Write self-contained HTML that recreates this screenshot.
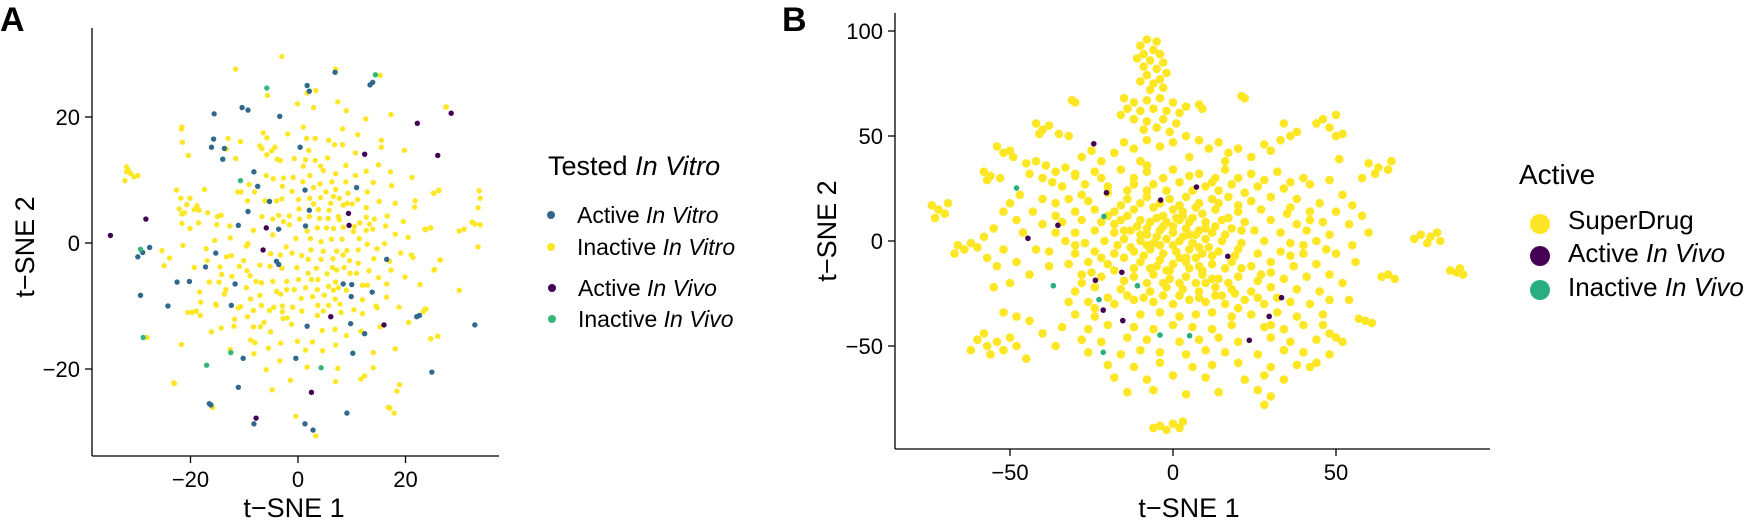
<!DOCTYPE html>
<html><head><meta charset="utf-8"><style>
html,body{margin:0;padding:0;background:#fff;}
svg{display:block;font-family:"Liberation Sans",Arial,sans-serif;}
</style></head><body>
<svg id="fig" width="1750" height="522" viewBox="0 0 1750 522" xmlns="http://www.w3.org/2000/svg">
<g id="axA">
<text x="0" y="31" font-size="34" font-weight="bold">A</text>
<line x1="92" y1="28" x2="92" y2="456" stroke="#000" stroke-width="1.3"/>
<line x1="92" y1="456" x2="499" y2="456" stroke="#000" stroke-width="1.3"/>
<text x="294" y="517" font-size="27" text-anchor="middle">t−SNE 1</text>
<text transform="translate(34,247) rotate(-90)" font-size="27" text-anchor="middle">t−SNE 2</text>
<g id="ticksA"></g><g id="ptsA"></g>
<g>
<text x="548" y="175" font-size="27">Tested <tspan font-style="italic">In Vitro</tspan></text>
<circle cx="551" cy="215" r="4" fill="#31688e"/>
<text x="577" y="223" font-size="23">Active <tspan font-style="italic">In Vitro</tspan></text>
<circle cx="551" cy="247" r="4" fill="#fde725"/>
<text x="577" y="255" font-size="23">Inactive <tspan font-style="italic">In Vitro</tspan></text>
<circle cx="552" cy="288" r="4" fill="#440154"/>
<text x="578" y="296" font-size="23">Active <tspan font-style="italic">In Vivo</tspan></text>
<circle cx="552" cy="319" r="4" fill="#35b779"/>
<text x="578" y="327" font-size="23">Inactive <tspan font-style="italic">In Vivo</tspan></text>
</g>
</g>
<g id="axB">
<text x="782" y="31" font-size="34" font-weight="bold">B</text>
<line x1="895" y1="13" x2="895" y2="449" stroke="#000" stroke-width="1.3"/>
<line x1="895" y1="449" x2="1490" y2="449" stroke="#000" stroke-width="1.3"/>
<text x="1189" y="517" font-size="27" text-anchor="middle">t−SNE 1</text>
<text transform="translate(836,231) rotate(-90)" font-size="27" text-anchor="middle">t−SNE 2</text>
<g id="ticksB"></g><g id="ptsB"></g>
<g>
<text x="1519" y="184" font-size="28">Active</text>
<circle cx="1540" cy="224" r="10" fill="#fde725"/>
<text x="1568" y="229" font-size="26">SuperDrug</text>
<circle cx="1540" cy="256" r="10" fill="#440154"/>
<text x="1568" y="262" font-size="26">Active <tspan font-style="italic">In Vivo</tspan></text>
<circle cx="1540" cy="290" r="10" fill="#29af7f"/>
<text x="1568" y="296" font-size="26">Inactive <tspan font-style="italic">In Vivo</tspan></text>
</g>
</g>
</svg>
<script>
// ---- Panel A data ----
const aTicksX=[-20,0,20];
const aTicksY=[-20,0,20];
const aActiveVitro=[[6.9,27.1],[1.7,25.0],[2.1,24.1],[13.4,25.1],[13.9,25.5],[-10.4,21.5],[-9.3,21.1],[-15.6,20.5],[-3.4,20.1],[-15.7,16.5],[-16.1,15.2],[-13.7,15.0],[-14.0,13.3],[0.4,15.2],[-8.2,11.3],[-7.5,9.0],[1.3,8.4],[-5.3,6.6],[2.1,5.2],[-9.3,5.0],[-11.1,2.8],[-3.6,2.2],[1.4,2.7],[10.9,8.8],[-27.6,-0.7],[-29.8,-2.2],[-28.9,-1.5],[-15.3,-1.6],[-17.2,-3.8],[-4.0,-2.9],[-3.6,-3.4],[16.5,-2.6],[-22.5,-6.2],[-20.2,-6.1],[-11.7,-6.5],[8.4,-6.5],[10.0,-6.6],[-29.3,-8.3],[-24.2,-10.0],[-12.4,-9.9],[9.9,-8.5],[13.8,-7.8],[1.7,-13.2],[9.8,-12.8],[12.4,-14.4],[22.1,-11.7],[22.6,-11.5],[-10.2,-18.3],[-0.4,-18.3],[10.2,-17.5],[24.9,-20.5],[-11.1,-22.9],[-16.5,-25.5],[-16.2,-25.7],[-8.2,-28.7],[1.3,-28.7],[2.8,-29.7],[9.1,-27.0],[32.9,-13.0]];
const aActiveVivo=[[22.2,19.0],[26.0,13.9],[28.5,20.6],[12.4,14.1],[-28.3,3.8],[-34.9,1.2],[9.4,4.7],[9.5,2.8],[-5.9,2.4],[-6.5,-1.1],[6.1,-11.7],[16.0,-13.0],[2.5,-23.7],[-7.8,-27.8]];
const aInactiveVivo=[[14.4,26.7],[-5.8,24.6],[-10.7,9.9],[-29.3,-1.0],[-28.8,-15.0],[-12.5,-17.4],[-17.0,-19.4],[4.3,-19.8]];
const aInactiveVitro=[[-3.0,29.6],[-11.6,27.6],[7.0,27.6],[15.3,26.6],[3.3,24.2],[-5.7,23.4],[1.7,23.8],[7.4,22.4],[-0.1,22.1],[2.9,21.5],[9.0,21.0],[17.3,20.4],[27.6,21.6],[12.6,19.7],[1.0,18.4],[8.3,18.1],[-21.6,18.4],[-21.7,18.1],[-21.5,16.0],[-6.5,17.5],[-5.8,16.7],[-1.9,17.3],[-13.0,16.6],[-10.7,16.1],[1.6,16.6],[3.2,16.6],[5.7,16.3],[11.1,17.2],[15.5,16.3],[15.5,15.2],[6.8,15.6],[8.3,15.6],[-7.1,15.4],[-4.3,15.2],[-13.3,14.9],[-6.7,15.0],[-4.9,14.6],[2.0,14.7],[-3.9,13.3],[-3.3,13.1],[-0.7,13.4],[1.4,13.2],[3.2,13.1],[5.5,13.5],[10.7,14.3],[19.8,14.7],[-11.6,13.4],[-20.4,13.9],[-5.8,14.0],[1.0,12.2],[8.9,12.3],[15.0,12.4],[4.2,12.2],[12.7,11.4],[17.2,11.3],[7.0,11.0],[4.7,11.5],[2.2,10.7],[-5.9,10.7],[-0.9,10.4],[10.7,10.7],[21.2,10.4],[-31.9,12.1],[-31.5,11.5],[-31.9,11.3],[-31.1,11.0],[-29.8,10.7],[-30.5,10.5],[-32.2,9.9],[-4.6,10.2],[-2.7,10.3],[0.9,9.7],[4.1,9.4],[6.3,9.7],[8.9,9.7],[14.0,9.6],[17.4,9.1],[-9.1,9.3],[-2.9,9.0],[2.9,8.8],[5.2,8.1],[7.0,8.5],[9.3,7.9],[12.9,8.1],[-11.2,8.1],[-10.6,8.1],[-8.1,8.1],[-1.1,8.2],[25.2,7.9],[26.2,8.4],[-22.6,8.4],[-17.4,8.5],[-9.4,6.7],[-6.1,6.7],[-4.0,6.7],[-3.0,7.0],[0.1,6.9],[2.2,7.1],[4.2,7.2],[6.6,7.4],[7.7,7.1],[9.1,6.3],[10.1,6.2],[11.1,6.9],[12.7,5.6],[15.1,6.6],[18.1,6.3],[21.8,6.7],[21.7,5.7],[-21.8,7.1],[-20.1,7.1],[-22.1,5.4],[-20.7,6.1],[-18.8,5.9],[-19.3,5.3],[3.8,5.3],[5.8,5.2],[8.4,6.0],[6.1,6.3],[0.2,5.4],[2.9,6.2],[-3.6,4.4],[-1.6,4.3],[-6.7,4.2],[-4.7,3.8],[0.3,3.8],[2.1,4.2],[4.0,3.9],[5.6,3.9],[7.5,4.2],[11.5,3.2],[12.7,4.1],[14.2,3.8],[16.6,4.3],[-21.6,4.6],[-21.1,4.8],[-18.4,5.2],[-16.8,4.8],[-15.0,4.2],[-14.3,4.4],[-21.6,3.1],[-18.5,3.2],[-15.1,2.9],[-12.7,2.7],[-2.7,3.4],[-1.6,2.9],[7.7,3.7],[10.5,2.6],[13.3,3.0],[19.6,3.4],[-20.1,2.3],[-8.3,2.0],[-4.7,1.3],[1.7,1.9],[3.6,2.4],[5.3,2.4],[6.6,2.3],[8.4,2.5],[10.3,1.8],[12.7,2.0],[13.9,2.2],[16.3,2.7],[18.1,1.4],[20.5,0.9],[23.7,2.1],[24.6,2.4],[-15.5,0.4],[-12.6,0.8],[-9.6,-0.5],[-9.3,-0.1],[-0.4,0.7],[2.3,0.7],[4.3,0.2],[6.2,0.6],[8.2,0.6],[11.4,0.7],[16.1,-0.1],[-21.4,-0.4],[-17.1,-0.9],[-13.3,-2.2],[-12.4,-2.0],[-10.1,-2.8],[-5.1,-1.7],[-3.3,-1.9],[-2.2,-0.6],[-1.1,-1.6],[0.7,-2.0],[2.4,-1.1],[4.7,-1.3],[7.2,-1.3],[9.1,-1.2],[11.2,-1.1],[12.9,-0.2],[14.7,-0.9],[19.1,-1.6],[21.1,-1.9],[21.4,-2.3],[26.5,-2.7],[-25.3,-1.2],[-23.9,-2.4],[-16.9,-2.8],[-24.9,-3.6],[1.9,-2.6],[4.3,-2.6],[6.5,-2.5],[8.4,-1.9],[9.6,-2.8],[11.2,-3.2],[14.1,-2.5],[17.0,-2.9],[-19.3,-3.9],[-14.5,-3.8],[-10.9,-3.7],[-9.5,-4.4],[-7.1,-3.5],[-5.2,-3.7],[-3.0,-4.0],[-0.2,-3.9],[1.9,-4.8],[3.4,-4.0],[5.4,-4.9],[6.4,-3.9],[7.2,-4.3],[8.6,-3.9],[9.7,-4.8],[10.9,-4.8],[13.2,-4.4],[17.3,-4.3],[25.4,-4.2],[-14.2,-5.0],[-12.3,-5.3],[-8.9,-5.2],[-16.5,-6.2],[-14.7,-6.2],[-13.4,-7.4],[-9.6,-7.1],[-7.8,-6.1],[-6.8,-6.3],[-4.7,-6.1],[-2.1,-6.1],[0.1,-5.8],[2.5,-5.8],[3.7,-5.8],[5.7,-6.9],[7.0,-6.2],[7.5,-7.1],[12.0,-6.7],[12.9,-6.7],[15.0,-5.5],[16.5,-6.5],[19.9,-5.4],[22.7,-6.6],[-0.7,-7.4],[1.4,-7.1],[3.6,-7.4],[6.6,-7.5],[9.0,-7.5],[-18.3,-7.8],[-18.1,-9.4],[-13.7,-8.1],[-7.1,-8.3],[-4.0,-7.7],[-3.2,-8.1],[-2.1,-7.4],[0.6,-8.8],[2.7,-8.5],[4.9,-8.3],[6.9,-8.9],[12.0,-9.0],[16.5,-8.6],[-15.3,-9.7],[-15.2,-9.9],[-10.7,-10.1],[-11.1,-10.3],[-8.8,-8.9],[-6.8,-9.9],[-4.5,-10.2],[-2.9,-10.0],[-1.0,-10.2],[3.7,-9.9],[5.7,-9.9],[7.8,-9.7],[10.4,-10.6],[14.5,-10.0],[14.7,-10.3],[18.8,-10.2],[-20.5,-11.0],[-19.7,-11.0],[-18.9,-10.8],[-18.2,-11.5],[-11.8,-12.1],[-9.4,-11.7],[-8.3,-10.7],[-5.3,-10.7],[-2.9,-10.9],[-2.8,-12.0],[-2.0,-11.9],[-1.2,-12.9],[0.7,-10.8],[3.6,-11.5],[4.7,-10.8],[8.0,-11.0],[12.0,-11.2],[23.3,-10.9],[23.8,-10.5],[20.6,-12.6],[-16.1,-14.1],[-14.3,-13.5],[-11.9,-13.2],[-8.3,-13.3],[-7.0,-13.3],[-6.3,-12.6],[-5.1,-14.1],[4.5,-13.9],[6.9,-13.7],[9.0,-14.7],[11.7,-14.0],[15.3,-13.3],[24.7,-15.2],[26.0,-14.8],[-21.7,-16.1],[-28.1,-15.0],[-8.8,-15.4],[-8.0,-15.8],[-3.2,-15.9],[-0.1,-15.6],[2.7,-15.7],[7.0,-16.2],[-12.6,-16.9],[-8.2,-17.6],[-5.5,-16.7],[1.4,-17.0],[4.6,-17.1],[14.0,-17.4],[18.1,-16.8],[-3.4,-18.7],[1.7,-19.7],[-5.9,-20.1],[7.4,-19.9],[14.0,-19.8],[-23.0,-22.3],[-1.4,-21.8],[7.0,-22.0],[11.7,-21.6],[12.4,-21.1],[18.9,-22.5],[18.4,-23.5],[-4.8,-23.3],[-15.9,-26.1],[16.8,-26.1],[17.1,-26.2],[-23.1,-22.2],[-0.4,-27.5],[3.3,-30.6],[17.9,-27.0],[27.5,21.6],[25.3,7.9],[26.2,8.3],[33.7,8.3],[33.9,7.1],[33.5,5.6],[32.4,3.3],[32.9,3.0],[33.9,2.9],[30.0,1.9],[30.9,2.2],[23.6,2.2],[24.7,2.4],[33.5,-0.6],[26.4,-2.7],[25.3,-4.3],[30.0,-7.5],[23.6,-10.5],[24.7,-15.2],[26.0,-14.8]];
// ---- Panel B data ----
const bTicksX=[-50,0,50];
const bTicksY=[-50,0,50,100];
const bActiveVivo=[[-24.3,46.3],[-20.4,23.0],[-3.8,19.5],[7.2,25.7],[-35.3,7.5],[-44.5,1.3],[16.8,-7.3],[-15.7,-14.9],[-23.8,-18.7],[-21.4,-32.9],[-15.4,-37.9],[33.3,-27.0],[29.5,-35.9],[23.4,-47.3]];
const bInactiveVivo=[[-48.0,25.2],[-21.2,11.7],[-36.7,-21.3],[-10.9,-21.3],[-22.7,-27.9],[-4.0,-44.8],[5.1,-45.1],[-21.4,-53.0]];
const bSuperDrug=[[-8,96],[-5,95],[-10,93],[-6,91],[-9,89],[-4,89],[-11,87],[-7,86],[-3,85],[-9,83],[-5,82],[-2,80],[-8,79],[-4,77],[-6,75],[-10,76],[-3,73],[-7,72],
[-15,68],[-12,66],[-8,67],[-4,68],[0,66],[-14,63],[-10,62],[-6,63],[-2,62],[2,61],[-12,58],[-8,57],[-3,58],[1,56],[-16,60],[-9,53],[-5,54],[4,64],[-1,52],
[-31,67],[-30,66],[8,65],[9,63],[21,69],[22,68],
[-42,56],[-40,53],[-38,55],[-41,51],[-35,51],[-32,50],[-54,45],[-52,42],[-50,43],[-49,40],[-58,33],[-56,31],[-57,29],[-53,30],
[-45,37],[-42,38],[-39,36],[-36,33],[-44,32],[-40,30],[-37,28],[-33,35],[-30,31],[-28,40],[-25,43],[-22,38],[-18,42],[-15,47],[-12,44],[-8,48],[-4,45],[0,47],[4,50],[8,48],[11,44],[14,47],[17,42],[20,44],[24,40],[28,46],[30,43],[33,48],[36,50],[38,52],[34,56],
[-74,17],[-72,15],[-70,13],[-73,11],[-69,18],[-66,-2],[-64,-4],[-62,-1],[-67,-6],[-60,-3],[-58,2],[-55,6],[-57,-8],[-54,-12],[-52,14],[-50,18],[-48,10],[-46,4],[-52,-4],[-48,-10],[-44,-16],[-50,-20],[-55,-22],[-47,22],[-43,14],[-40,8],[-42,-4],[-38,-12],[-40,20],[-36,18],
[-30,32],[-24,33],[-16,34],[-8,33],[0,34],[8,32],[16,34],[24,32],[32,33],[40,30],
[-34,26],[-27,27],[-20,26],[-12,27],[-6,27],[2,28],[10,26],[18,27],[26,26],[34,25],[42,27],
[-32,20],[-26,19],[-14,20],[-8,21],[-1,20],[4,21],[12,20],[17,21],[24,19],[30,21],[38,20],[45,18],
[-30,14],[-24,15],[-18,14],[-12,15],[-6,16],[0,15],[3,14],[7,16],[13,15],[20,14],[27,15],[35,13],[42,14],
[-34,9],[-28,10],[-22,9],[-16,10],[-10,10],[-5,11],[-2,9],[2,10],[6,11],[10,9],[15,10],[22,9],[30,10],[38,8],[46,9],
[-30,4],[-24,5],[-18,4],[-13,5],[-8,6],[-4,5],[0,4],[4,6],[8,5],[12,4],[18,6],[25,5],[33,4],[41,5],[48,3],
[-33,0],[-27,-1],[-21,0],[-15,1],[-10,0],[-6,-1],[-2,1],[2,0],[6,-1],[10,1],[15,0],[21,-1],[28,0],[36,-1],[44,0],
[-30,-6],[-24,-5],[-18,-6],[-12,-5],[-7,-4],[-3,-6],[1,-5],[5,-4],[9,-6],[14,-5],[20,-4],[26,-6],[33,-5],[40,-6],[47,-4],
[-32,-11],[-26,-10],[-20,-11],[-10,-10],[-5,-12],[0,-11],[4,-10],[8,-12],[12,-11],[18,-10],[24,-12],[30,-10],[37,-12],[44,-11],
[-28,-16],[-22,-17],[-12,-17],[-6,-16],[-1,-18],[4,-17],[9,-16],[14,-18],[20,-17],[27,-16],[34,-18],[41,-17],[48,-16],
[-30,-24],[-24,-22],[-16,-23],[-7,-24],[-2,-22],[3,-23],[8,-24],[13,-22],[18,-23],[24,-24],[30,-22],[38,-23],[45,-24],
[-26,-29],[-18,-30],[-12,-28],[-6,-29],[0,-30],[5,-28],[10,-29],[16,-30],[22,-28],[28,-30],[36,-29],[42,-30],
[-30,-35],[-24,-36],[-10,-35],[-4,-34],[2,-36],[7,-35],[12,-34],[18,-36],[24,-35],[32,-34],[38,-36],[46,-35],
[-34,-41],[-26,-42],[-20,-40],[-12,-41],[-6,-42],[0,-40],[6,-41],[12,-42],[18,-40],[28,-41],[34,-42],[40,-40],
[-28,-47],[-22,-48],[-14,-46],[-8,-47],[2,-48],[8,-47],[14,-46],[20,-48],[30,-46],[36,-48],[44,-47],
[-26,-53],[-16,-54],[-10,-52],[-4,-53],[4,-54],[10,-52],[16,-53],[26,-54],[34,-52],[40,-53],[48,-54],
[-20,-59],[-12,-60],[-4,-58],[6,-60],[12,-59],[20,-58],[30,-60],[38,-59],[44,-58],
[-18,-65],[-8,-66],[0,-64],[10,-65],[22,-66],[28,-64],[34,-66],
[-14,-72],[-6,-71],[4,-73],[14,-72],[26,-71],[30,-74],[28,-78],
[-4,-88],[-2,-90],[0,-87],[2,-89],[-6,-89],[3,-86],
[-60,-47],[-57,-50],[-54,-48],[-52,-52],[-56,-54],[-50,-46],[-48,-50],[-62,-52],[-58,-44],[-45,-56],[-40,-44],[-44,-38],[-48,-36],[-52,-34],[-36,-50],
[60,37],[63,35],[66,34],[62,32],[58,30],[67,38],[50,50],[52,51],
[76,3],[79,2],[81,4],[78,-1],[74,1],[82,0],[85,-14],[87,-15],[89,-16],[88,-13],
[64,-17],[66,-16],[68,-18],[50,-46],[52,-48],[48,-44],[57,-37],[59,-38],[61,-39],[42,-60],[44,-58],
[51,39],[48,29],[52,22],[55,17],[50,14],[54,8],[58,12],[60,4],[55,-2],[50,-6],[56,-10],[52,-20],[48,-28],[54,-28],[46,-40],
[44,56],[46,58],[48,54],[50,60],
[-15,5],[-10,3],[-5,2],[0,7],[5,3],[10,6],[-3,12],[3,12],[-8,-2],[4,-8],[8,-3],[-2,-14],[10,-20],[15,-26],[20,-32],[-20,12],[-25,-15],[12,28],[-10,38],[5,40],
[-18,8],[-14,12],[-11,7],[-7,9],[-3,7],[1,11],[5,9],[9,13],[13,7],[17,11],[21,5],[-17,-2],[-13,-3],[-8,3],[-4,-2],[0,-2],[3,2],[7,3],[11,-3],[16,3],[19,-7],[-16,17],[-10,18],[-4,18],[2,17],[8,18],[14,18],[20,17],[-20,23],[-14,24],[-8,24],[-2,24],[6,24],[14,24],[22,23],[-22,-8],[-15,-8],[-9,-7],[-4,-9],[2,-8],[7,-8],[12,-7],[16,-13],[-18,-14],[-12,-13],[-7,-13],[-1,-14],[5,-13],[9,-14],[21,-13],[26,-19],[-15,-19],[-8,-20],[-3,-20],[2,-20],[7,-20],[12,-18],[17,-20],[-20,-27],[-14,-26],[-9,-27],[-3,-26],[2,-26],[8,-27],[13,-26],[19,-25],[26,-27],[32,-27],[-22,30],[-12,30],[-3,30],[5,31],[13,30],[20,30],[28,29],[36,28],[-28,-20],[-32,-29],[30,-15],[36,-7],[40,-2],[42,10],[36,16],[-36,4],[-38,-5],[-30,-2],[-28,22],[-36,12],[-24,-32],[30,-40],[-8,36],[16,38]];

const NS='http://www.w3.org/2000/svg';
function xA(v){return 298+v*5.375;}
function yA(v){return 243-v*6.3;}
function xB(v){return 1173+v*3.26;}
function yB(v){return 241-v*2.1;}
function mk(tag,attrs,parent){const e=document.createElementNS(NS,tag);for(const k in attrs)e.setAttribute(k,attrs[k]);parent.appendChild(e);return e;}

function ticks(g,tx,ty,fx,fy,x0,y0,prefix){
  tx.forEach(v=>{
    const l=mk('line',{x1:fx(v),x2:fx(v),y1:y0,y2:y0+7,stroke:'#000','stroke-width':1.3},g);
    
    
    const t=mk('text',{x:fx(v),y:y0+31,'font-size':22,'text-anchor':'middle'},g);
    t.textContent=v<0?'−'+Math.abs(v):String(v);
    
    
  });
  ty.forEach(v=>{
    const l=mk('line',{x1:x0-7,x2:x0,y1:fy(v),y2:fy(v),stroke:'#000','stroke-width':1.3},g);
    
    
    const t=mk('text',{x:x0-12,y:fy(v)+8,'font-size':22,'text-anchor':'end'},g);
    t.textContent=v<0?'−'+Math.abs(v):String(v);
    
    
  });
}
ticks(document.getElementById('ticksA'),aTicksX,aTicksY,xA,yA,92,456,'panel-a');
ticks(document.getElementById('ticksB'),bTicksX,bTicksY,xB,yB,895,449,'panel-b');

function pts(g,arr,fx,fy,r,color,name){
  arr.forEach(p=>{
    const c=mk('circle',{cx:fx(p[0]),cy:fy(p[1]),r:r,fill:color},g);
    
    
  });
}
const gA=document.getElementById('ptsA');
pts(gA,aInactiveVitro,xA,yA,2.7,'#fde725','point-inactive-in-vitro');
pts(gA,aActiveVitro,xA,yA,2.7,'#31688e','point-active-in-vitro');
pts(gA,aActiveVivo,xA,yA,2.7,'#440154','point-active-in-vivo');
pts(gA,aInactiveVivo,xA,yA,2.7,'#35b779','point-inactive-in-vivo');
const gB=document.getElementById('ptsB');
pts(gB,bSuperDrug,xB,yB,4.3,'#fde725','point-superdrug');
pts(gB,bActiveVivo,xB,yB,2.8,'#440154','point-active-in-vivo');
pts(gB,bInactiveVivo,xB,yB,2.8,'#29af7f','point-inactive-in-vivo');
</script>
</body></html>
